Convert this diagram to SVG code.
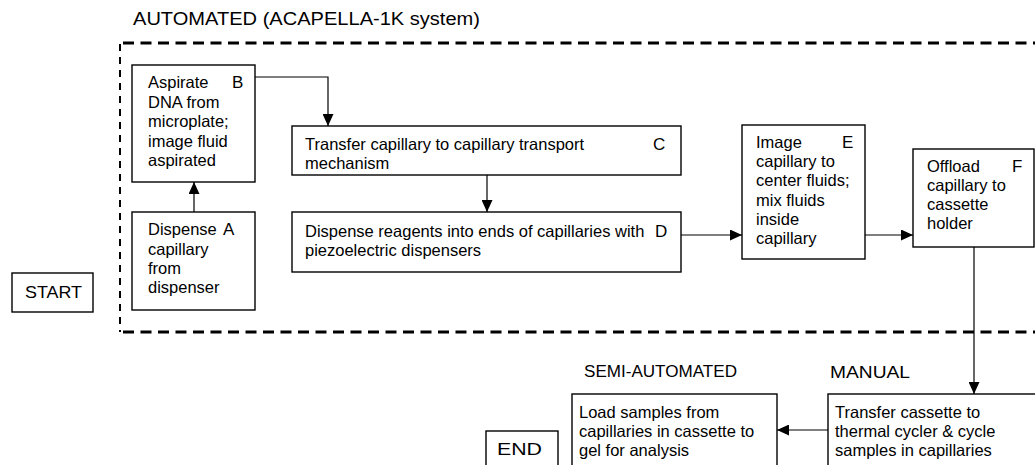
<svg xmlns="http://www.w3.org/2000/svg" width="1035" height="465" viewBox="0 0 1035 465">
<style>
text{font-family:"Liberation Sans",Arial,sans-serif;font-size:16.5px;fill:#000}
.box{fill:#fff;stroke:#000;stroke-width:1.4}
.lbl{font-size:17px}
.hdr{font-size:16px}
.big{font-size:18px}
.con{fill:none;stroke:#000;stroke-width:1.2}
.dh{fill:none;stroke:#000;stroke-width:3;stroke-dasharray:11 6.5}
.dv{fill:none;stroke:#000;stroke-width:2;stroke-dasharray:7 6}
</style>
<defs>
<marker id="ah" markerUnits="userSpaceOnUse" markerWidth="12" markerHeight="11" refX="12" refY="5.5" orient="auto">
<path d="M0,0 L12,5.5 L0,11 Z" fill="#000"/>
</marker>
</defs>
<rect width="1035" height="465" fill="#fff"/>
<g id="automated-region">
<text class="big" x="133" y="25" textLength="347" lengthAdjust="spacingAndGlyphs">AUTOMATED (ACAPELLA-1K system)</text>
<line class="dh" x1="123" y1="43" x2="1035" y2="43"/>
<line class="dh" x1="123" y1="332" x2="1035" y2="332"/>
<line class="dv" x1="120" y1="44" x2="120" y2="332"/>
</g>
<g id="connectors">
<line class="con" x1="194" y1="212" x2="194" y2="182" marker-end="url(#ah)"/>
<polyline class="con" points="255,77 328,77 328,126" marker-end="url(#ah)"/>
<line class="con" x1="487" y1="175" x2="487" y2="212" marker-end="url(#ah)"/>
<line class="con" x1="681" y1="235" x2="742" y2="235" marker-end="url(#ah)"/>
<line class="con" x1="865" y1="235" x2="913" y2="235" marker-end="url(#ah)"/>
<line class="con" x1="974" y1="247" x2="974" y2="394" marker-end="url(#ah)"/>
<line class="con" x1="828" y1="430" x2="777" y2="430" marker-end="url(#ah)"/>
</g>
<g id="start">
<rect class="box" x="12" y="273" width="81" height="39"/>
<text class="lbl" x="25" y="298" textLength="57" lengthAdjust="spacingAndGlyphs">START</text>
</g>
<g id="nodeA">
<rect class="box" x="132" y="212" width="123" height="98"/>
<text x="148" y="235">Dispense</text>
<text x="148" y="255">capillary</text>
<text x="148" y="274">from</text>
<text x="148" y="293">dispenser</text>
<text class="lbl" x="223" y="235">A</text>
</g>
<g id="nodeB">
<rect class="box" x="132" y="65" width="123" height="117"/>
<text x="148" y="88">Aspirate</text>
<text x="148" y="108">DNA from</text>
<text x="148" y="127">microplate;</text>
<text x="148" y="147">image fluid</text>
<text x="148" y="166">aspirated</text>
<text class="lbl" x="232" y="88">B</text>
</g>
<g id="nodeC">
<rect class="box" x="292" y="126" width="389" height="49"/>
<text x="305" y="150">Transfer capillary to capillary transport</text>
<text x="305" y="169">mechanism</text>
<text class="lbl" x="653" y="150">C</text>
</g>
<g id="nodeD">
<rect class="box" x="292" y="212" width="389" height="60"/>
<text x="305" y="237">Dispense reagents into ends of capillaries with</text>
<text x="305" y="256">piezoelectric dispensers</text>
<text class="lbl" x="655" y="237">D</text>
</g>
<g id="nodeE">
<rect class="box" x="742" y="125" width="123" height="134"/>
<text x="756" y="148">Image</text>
<text x="756" y="167">capillary to</text>
<text x="756" y="186">center fluids;</text>
<text x="756" y="206">mix fluids</text>
<text x="756" y="225">inside</text>
<text x="756" y="244">capillary</text>
<text class="lbl" x="842" y="148">E</text>
</g>
<g id="nodeF">
<rect class="box" x="913" y="149" width="121" height="98"/>
<text x="927" y="172">Offload</text>
<text x="927" y="191">capillary to</text>
<text x="927" y="210">cassette</text>
<text x="927" y="229">holder</text>
<text class="lbl" x="1012" y="172">F</text>
</g>
<g id="manual">
<text class="hdr" x="830" y="378" textLength="80" lengthAdjust="spacingAndGlyphs">MANUAL</text>
<rect class="box" x="828" y="394" width="220" height="90"/>
<text x="835" y="418">Transfer cassette to</text>
<text x="835" y="437">thermal cycler &amp; cycle</text>
<text x="835" y="456">samples in capillaries</text>
</g>
<g id="semi-automated">
<text class="hdr" x="584" y="377" textLength="153" lengthAdjust="spacingAndGlyphs">SEMI-AUTOMATED</text>
<rect class="box" x="572" y="394" width="205" height="90"/>
<text x="579" y="418">Load samples from</text>
<text x="579" y="437">capillaries in cassette to</text>
<text x="579" y="456">gel for analysis</text>
</g>
<g id="end">
<rect class="box" x="486" y="431" width="72" height="50"/>
<text class="lbl" x="497" y="455" textLength="45" lengthAdjust="spacingAndGlyphs">END</text>
</g>
</svg>
